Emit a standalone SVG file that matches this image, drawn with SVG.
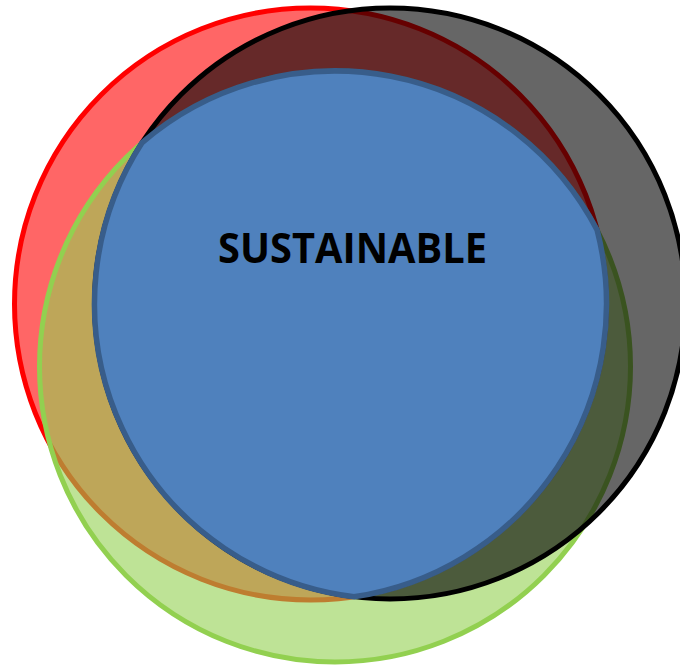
<svg xmlns="http://www.w3.org/2000/svg" width="680" height="667" viewBox="0 0 680 667">
  <style>
    .set { fill-opacity: 0.6; stroke-width: 5; }
    .label { font-family: "Open Sans", "Liberation Sans", sans-serif; font-weight: 700; font-size: 41px; fill: #000000; }
  </style>
  <rect width="680" height="667" fill="#FFFFFF"/>
  <g id="red-circle">
    <circle class="set" cx="310.5" cy="304" r="296" fill="#FF0000" stroke="#FF0000"/>
  </g>
  <g id="green-circle">
    <circle class="set" cx="335" cy="366.5" r="295.5" fill="#92D050" stroke="#92D050"/>
  </g>
  <g id="black-circle">
    <circle class="set" cx="390" cy="303.5" r="295.5" fill="#000000" stroke="#000000"/>
  </g>
  <g id="sustainable">
    <path d="M 142.14 142.6 A 295.5 295.5 0 0 1 597.12 230.05 A 296 296 0 0 1 353.95 596.79 A 295.5 295.5 0 0 1 142.14 142.6 Z" fill="#4F81BD" stroke="#385D8A" stroke-width="5.5" stroke-linejoin="miter"/>
    <text class="label" x="352.5" y="263" text-anchor="middle" textLength="269" lengthAdjust="spacingAndGlyphs">SUSTAINABLE</text>
  </g>
</svg>
